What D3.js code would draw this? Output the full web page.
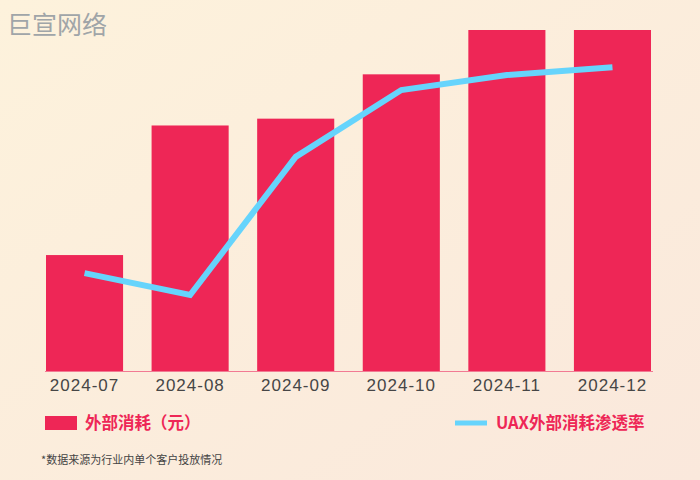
<!DOCTYPE html>
<html>
<head>
<meta charset="utf-8">
<script src="https://cdn.jsdelivr.net/npm/d3@7"></script>
<style>
  html, body { margin: 0; padding: 0; }
  body { width: 700px; height: 480px; overflow: hidden; }
  svg { display: block; font-family: "Noto Sans CJK SC", "Noto Sans", sans-serif; }
</style>
</head>
<body>
<div id="chart"></div>
<script>
// data
const months = ["2024-07", "2024-08", "2024-09", "2024-10", "2024-11", "2024-12"];
const spend = [34, 72, 74, 87, 100, 100];          // 外部消耗（元）, relative
const rate = [0.287, 0.223, 0.628, 0.824, 0.868, 0.891]; // UAX外部消耗渗透率

const width = 700, height = 480;
const red = "#ee2656", blue = "#66d4fc";

const svg = d3.select("#chart")
  .append("svg")
  .attr("width", width)
  .attr("height", height);

// background gradient
const defs = svg.append("defs");
const grad = defs.append("linearGradient")
  .attr("id", "bg")
  .attr("x1", "0").attr("y1", "0")
  .attr("x2", "1").attr("y2", "1");
grad.append("stop").attr("offset", "0%").attr("stop-color", "#fdf2dc");
grad.append("stop").attr("offset", "100%").attr("stop-color", "#fae8dc");

svg.append("rect")
  .attr("width", width)
  .attr("height", height)
  .attr("fill", "url(#bg)");

// watermark title
svg.append("text")
  .attr("x", 7)
  .attr("y", 34)
  .attr("font-size", 25)
  .attr("fill", "#a0a5a8")
  .text("巨宣网络");

const x = d3.scaleBand()
  .domain(months)
  .range([46, 651])
  .paddingInner(0.27)
  .paddingOuter(0);

const y = d3.scaleLinear()
  .domain([0, 100])
  .range([371, 30]);

const yRate = d3.scaleLinear()
  .domain([0, 1])
  .range([371, 30]);

// baseline
svg.append("line")
  .attr("x1", 45).attr("x2", 653)
  .attr("y1", 371.5).attr("y2", 371.5)
  .attr("stroke", "#f27a93")
  .attr("stroke-width", 1);

// bars
svg.append("g")
  .selectAll("rect")
  .data(spend)
  .join("rect")
    .attr("x", (d, i) => x(months[i]))
    .attr("y", d => y(d))
    .attr("width", x.bandwidth())
    .attr("height", d => y(0) - y(d))
    .attr("fill", red);

// line
const line = d3.line()
  .x((d, i) => x(months[i]) + x.bandwidth() / 2)
  .y(d => yRate(d));

svg.append("path")
  .datum(rate)
  .attr("d", line)
  .attr("fill", "none")
  .attr("stroke", blue)
  .attr("stroke-width", 6)
  .attr("stroke-linejoin", "miter");

// x axis
const xAxis = svg.append("g")
  .attr("transform", "translate(0,371)")
  .call(d3.axisBottom(x).tickSize(0).tickPadding(0))
  .call(g => g.select(".domain").remove());

xAxis.selectAll("text")
  .attr("font-size", 17)
  .attr("fill", "#464646")
  .attr("font-family", "'Liberation Sans', Arial, sans-serif")
  .attr("letter-spacing", 1)
  .attr("dy", null)
  .attr("y", 20);

// legend
const leg = svg.append("g");
leg.append("rect")
  .attr("x", 45).attr("y", 416)
  .attr("width", 32).attr("height", 14)
  .attr("fill", red);
leg.append("text")
  .attr("x", 85).attr("y", 429)
  .attr("font-size", 16.5)
  .attr("font-weight", "bold")
  .attr("fill", red)
  .text("外部消耗（元）");

leg.append("line")
  .attr("x1", 455).attr("x2", 487)
  .attr("y1", 423).attr("y2", 423)
  .attr("stroke", blue)
  .attr("stroke-width", 5);
leg.append("text")
  .attr("x", 496).attr("y", 429)
  .attr("font-size", 16.5)
  .attr("font-weight", "bold")
  .attr("fill", red)
  .text("UAX外部消耗渗透率");

// footnote
svg.append("text")
  .attr("x", 41).attr("y", 464)
  .attr("font-size", 11)
  .attr("fill", "#444")
  .text("*数据来源为行业内单个客户投放情况");
</script>
</body>
</html>
